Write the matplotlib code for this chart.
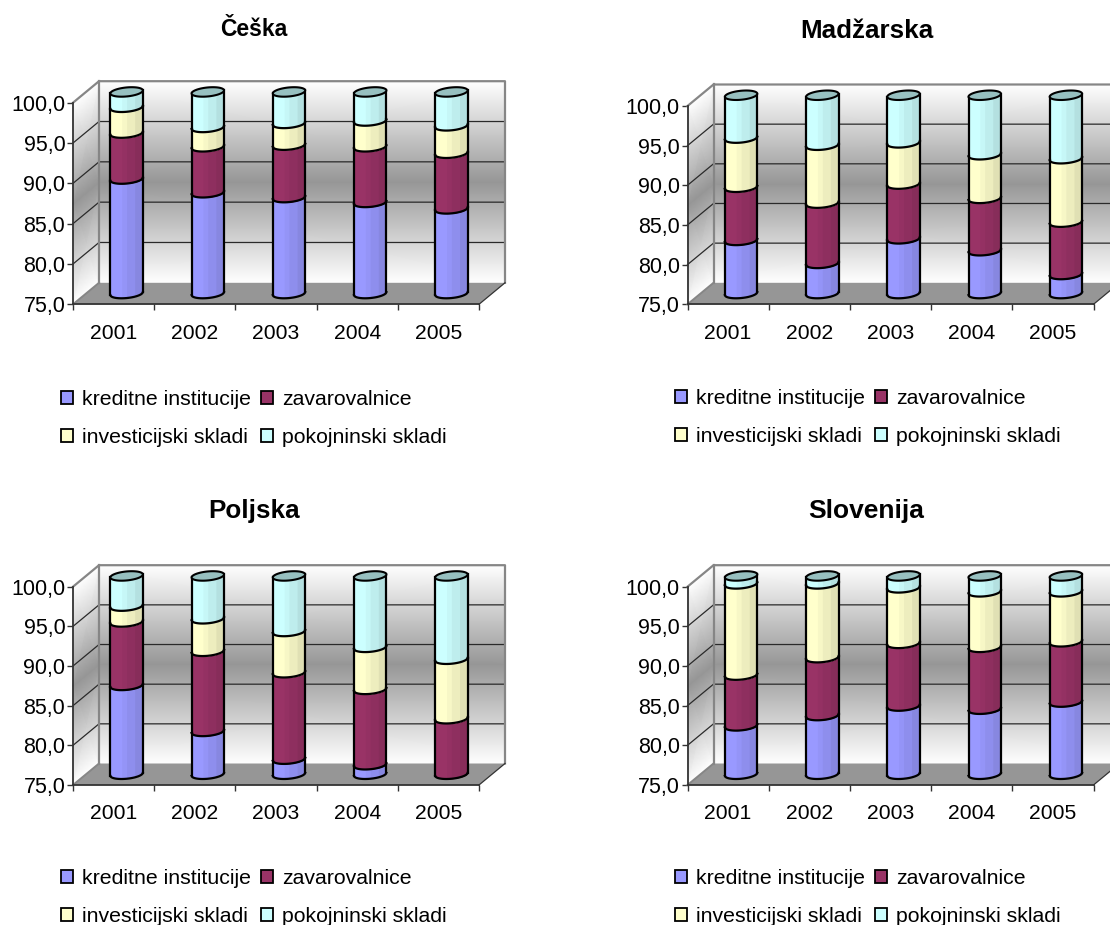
import numpy as np
import matplotlib
matplotlib.use('Agg')
import matplotlib.pyplot as plt
from matplotlib.colors import LinearSegmentedColormap
from matplotlib.patches import Patch

plt.rcParams['font.family'] = ['Liberation Sans', 'DejaVu Sans']

leta = ['2001', '2002', '2003', '2004', '2005']
y_ticks = [75, 80, 85, 90, 95, 100]
y_labels = ['75,0', '80,0', '85,0', '90,0', '95,0', '100,0']
serije = ['kreditne institucije', 'zavarovalnice', 'investicijski skladi', 'pokojninski skladi']
barve = ['#9999FF', '#993366', '#FFFFCC', '#CCFFFF']

# deleži po državah (%)
ceska = [[89.2, 87.5, 86.9, 86.3, 85.5],
         [5.7, 5.7, 6.5, 6.9, 6.9],
         [3.2, 2.4, 2.7, 3.2, 3.4],
         [1.9, 4.4, 3.9, 3.6, 4.2]]
madzarska = [[81.7, 78.8, 81.9, 80.4, 77.4],
             [6.7, 7.6, 6.9, 6.6, 6.6],
             [6.2, 7.3, 5.2, 5.5, 8.0],
             [5.4, 6.3, 6.0, 7.5, 8.0]]
poljska = [[86.2, 80.4, 76.9, 76.2, 74.5],
           [8.0, 10.1, 10.9, 9.5, 7.5],
           [2.0, 4.1, 5.2, 5.3, 7.5],
           [3.8, 5.4, 7.0, 9.0, 10.5]]
slovenija = [[81.1, 82.4, 83.6, 83.2, 84.1],
             [6.4, 7.3, 7.9, 7.8, 7.6],
             [11.5, 9.3, 7.0, 7.0, 6.3],
             [1.0, 1.0, 1.5, 2.0, 2.0]]

W, H = 1110, 925

# naslov, podatki, x0, y100, y75 (px), naslov x, y, velikost, legenda x, y
paneli = [('Češka', ceska, 73, 102.7, 304.3, 254, 30, 16.5, 61, 418.5),
          ('Madžarska', madzarska, 687.5, 106, 304.3, 867, 31, 18.7, 675, 417.5),
          ('Poljska', poljska, 73, 586.7, 785, 254, 511, 18.7, 61, 897.5),
          ('Slovenija', slovenija, 687.5, 586.7, 785, 866.5, 511, 19, 675, 897.5)]

stene = LinearSegmentedColormap.from_list('stene', ['#FFFFFF', '#969696'])
senca = [(0.0, 1.0), (0.35, 0.97), (0.5, 0.93), (0.75, 0.88)]

fig = plt.figure(figsize=(W / 100, H / 100), dpi=100)


def rob(xs, cx, a, raven, sx, bx):
    # spodnji rob elipse pri dani višini
    u = np.clip((xs - cx) / a, -1, 1)
    return raven + sx * u - bx * np.sqrt(1 - u ** 2)


for naslov, data, x0, y100, y75, tx, ty, ts, lx, ly in paneli:
    ax = fig.add_axes([x0 / W, 1 - y75 / H, 406 / W, (y75 - y100) / H])
    px_x = 406 / 5
    px_y = (y75 - y100) / 25
    dx = 26 / px_x
    dy = 21.5 / px_y

    # stene in tla
    vrstice = np.array([75, 87.5, 100])
    C = np.array([[0, 0], [1, 1], [0, 0]])
    ax.pcolormesh(np.array([[dx, 5 + dx]] * 3), np.array([vrstice + dy, vrstice + dy]).T, C,
                  shading='gouraud', cmap=stene, vmin=0, vmax=1, zorder=1, clip_on=False)
    ax.pcolormesh(np.array([[0, dx]] * 3), np.array([vrstice, vrstice + dy]).T, C,
                  shading='gouraud', cmap=stene, vmin=0, vmax=1, zorder=1, clip_on=False)
    ax.fill([0, 5, 5 + dx, dx], [75, 75, 75 + dy, 75 + dy], color='#969696', lw=0, zorder=1.5, clip_on=False)

    for v in y_ticks[1:-1]:
        ax.plot([0, dx, 5 + dx], [v, v + dy, v + dy], color='#2a2a2a', lw=0.9, zorder=2, clip_on=False)
    ax.plot([0, dx, 5 + dx, 5 + dx], [100, 100 + dy, 100 + dy, 75 + dy], color='#868686', lw=1.6, zorder=2, clip_on=False)
    ax.plot([dx, dx], [75 + dy, 100 + dy], color='#868686', lw=1.6, zorder=2, clip_on=False)
    ax.plot([0, dx], [75, 75 + dy], color='#868686', lw=1.4, zorder=2, clip_on=False)
    ax.plot([5, 5 + dx], [75, 75 + dy], color='#333333', lw=0.9, zorder=2, clip_on=False)

    # valji
    a = 16.2 / px_x
    sx = 1.5 / px_y
    bx = 4.5 / px_y
    for i in range(len(leta)):
        cx = i + 0.5 + dx / 2
        dno = 0
        for s in range(len(serije)):
            vrh = dno + data[s][i]
            lo = max(dno, 75) + dy / 2
            hi = vrh + dy / 2
            dno = vrh
            if vrh <= 75:
                continue
            barva = np.array(matplotlib.colors.to_rgb(barve[s]))
            # vsak pas prekrije preostanek valja, da ni špranj
            for f0, k in senca:
                xs = np.linspace(cx - a + 2 * a * f0, cx + a, 40)
                ax.fill_between(xs, rob(xs, cx, a, lo, sx, bx), rob(xs, cx, a, hi, sx, bx),
                                color=barva * k, lw=0, zorder=3, clip_on=False)
            xs = np.linspace(cx - a, cx + a, 60)
            ax.plot(xs, rob(xs, cx, a, lo, sx, bx), color='k', lw=1.6, zorder=4, clip_on=False)
            ax.plot([cx - a, cx - a], [lo - sx, hi - sx], color='k', lw=1.6, zorder=4, clip_on=False)
            ax.plot([cx + a, cx + a], [lo + sx, hi + sx], color='k', lw=1.6, zorder=4, clip_on=False)
        # pokrov
        t = np.linspace(0, 2 * np.pi, 80)
        ax.fill(cx + a * np.cos(t), 100 + dy / 2 + sx * np.cos(t) + bx * np.sin(t), facecolor='#97C0C0',
                edgecolor='k', lw=1.5, zorder=5, clip_on=False)

    ax.set_xlim(0, 5)
    ax.set_ylim(75, 100)
    ax.patch.set_visible(False)
    for sp in ['top', 'right']:
        ax.spines[sp].set_visible(False)
    for sp in ['left', 'bottom']:
        ax.spines[sp].set_color('#333333')
        ax.spines[sp].set_linewidth(1.3)
        ax.spines[sp].set_zorder(2.5)
    ax.set_yticks(y_ticks)
    ax.set_yticklabels(y_labels, fontsize=15.5)
    ax.set_xticks(range(6))
    ax.set_xticklabels([])
    ax.set_xticks(np.arange(5) + 0.5, minor=True)
    ax.set_xticklabels(leta, minor=True, fontsize=15.2)
    ax.tick_params(axis='x', which='minor', length=0, pad=14)
    ax.tick_params(axis='x', which='major', length=4.5, width=1, color='#333333')
    ax.tick_params(axis='y', length=4.5, width=1, color='#333333', pad=1)

    fig.text(tx / W, 1 - ty / H, naslov, fontsize=ts, fontweight='bold', ha='center', va='center')

    ozn = [Patch(facecolor=barve[k], edgecolor='k', lw=1.3) for k in [0, 2, 1, 3]]
    txt = [serije[k] for k in [0, 2, 1, 3]]
    fig.legend(ozn, txt, ncol=2, frameon=False, fontsize=15.3, loc='center left',
               bbox_to_anchor=(lx / W, 1 - ly / H), handlelength=0.55, handleheight=0.55,
               handletextpad=0.43, columnspacing=0.48, labelspacing=0.9, borderpad=0, borderaxespad=0)

fig.savefig('out.png', dpi=100)
